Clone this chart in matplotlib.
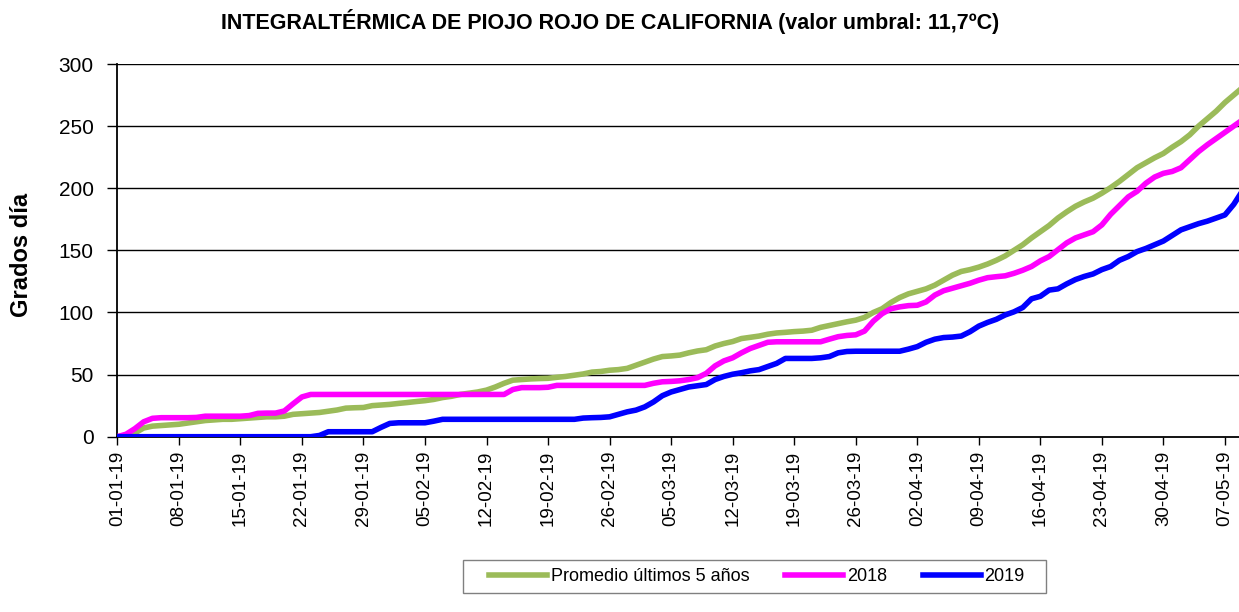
import matplotlib
matplotlib.use("Agg")
import matplotlib.pyplot as plt
from matplotlib.patches import Rectangle
from matplotlib import font_manager

# ---------------- data ----------------
days = list(range(0, 129))  # day index from 01-01-19

promedio = [0, 1, 3, 7, 8.5, 9, 9.5, 10, 11, 12,
            13, 13.5, 14, 14, 14.5, 15, 15.5, 16, 16, 16.5,
            18, 18.5, 19, 19.5, 20.5, 21.5, 23, 23.3, 23.5, 25,
            25.5, 26, 26.8, 27.5, 28.3, 29, 30, 31.5, 32.5, 34,
            35, 36, 37.5, 40, 43, 45.5, 46, 46.5, 46.8, 47,
            47.8, 48.5, 49.5, 50.5, 52, 52.5, 53.5, 54, 55, 57.5,
            60, 62.5, 64.5, 65, 65.7, 67.5, 69, 70, 73, 75,
            76.6, 79, 80, 81, 82.5, 83.5, 84, 84.6, 85, 85.7,
            88, 89.5, 91, 92.5, 93.8, 96, 100, 103, 108, 112,
            115, 117, 119, 122, 126, 130, 133, 134.5, 136.5, 139,
            142, 145.5, 150, 154.5, 160, 165, 170, 176, 181, 185.5,
            189, 192, 196, 200.5, 205.5, 211, 216.5, 220.5, 224.5, 228,
            233, 237.5, 243, 250, 256, 262, 269, 275, 281]

s2018 = [0, 2, 6.5, 12, 14.8, 15.3, 15.3, 15.3, 15.3, 15.5,
         16.5, 16.5, 16.5, 16.5, 16.5, 17, 18.8, 19, 19, 20.7,
         26.5, 32, 34, 34, 34, 34, 34, 34, 34, 34,
         34, 34, 34, 34, 34, 34, 34, 34, 34, 34,
         34, 34, 34, 34, 34, 38, 39.5, 39.5, 39.5, 39.8,
         41.3, 41.3, 41.3, 41.3, 41.3, 41.3, 41.3, 41.3, 41.3, 41.3,
         41.3, 43, 44.2, 44.5, 45, 46, 47.5, 51, 57, 61,
         63.5, 67.5, 71, 73.5, 76, 76.4, 76.4, 76.4, 76.4, 76.4,
         76.4, 78.5, 80.5, 81.5, 82, 85, 93, 99, 103, 104.5,
         105.5, 105.8, 108.5, 114, 117.5, 119.5, 121.5, 123.5, 126, 128,
         128.8, 129.5, 131.5, 134, 137, 141.5, 145, 150.5, 156, 160,
         162.5, 165, 170.5, 179, 186, 193, 197.5, 204, 209, 212,
         213.5, 216.5, 223, 229.5, 235, 240, 245, 250, 255]

s2019 = [0, 0, 0, 0, 0, 0, 0, 0, 0, 0,
         0, 0, 0, 0, 0, 0, 0, 0, 0, 0,
         0, 0, 0, 1, 4, 4, 4, 4, 4, 4,
         7.5, 10.7, 11.2, 11.2, 11.2, 11.2, 12.5, 14, 14, 14,
         14, 14, 14, 14, 14, 14, 14, 14, 14, 14,
         14, 14, 14, 15, 15.3, 15.5, 16, 18, 20, 21.4,
         24, 28, 33, 36, 38, 40, 41, 42, 46, 48.5,
         50.3, 51.5, 53, 54, 56.5, 59, 63, 63, 63, 63,
         63.5, 64.5, 67.5, 68.6, 68.8, 68.8, 68.8, 68.8, 68.8, 68.8,
         70.5, 72.5, 76, 78.5, 79.8, 80.2, 81, 84.5, 89, 92,
         94.5, 98, 100.5, 104, 111, 113, 118, 119, 123, 126.5,
         129, 131, 134.5, 137, 142, 145, 149, 151.5, 154.5, 157.5,
         162, 166.5, 169, 171.5, 173.5, 176, 178.5, 187, 198]

tick_days = [0, 7, 14, 21, 28, 35, 42, 49, 56, 63, 70, 77, 84, 91, 98, 105, 112, 119, 126]
tick_labels = ["01-01-19", "08-01-19", "15-01-19", "22-01-19", "29-01-19",
               "05-02-19", "12-02-19", "19-02-19", "26-02-19", "05-03-19",
               "12-03-19", "19-03-19", "26-03-19", "02-04-19", "09-04-19",
               "16-04-19", "23-04-19", "30-04-19", "07-05-19"]
y_ticks = [0, 50, 100, 150, 200, 250, 300]

series_names = ["Promedio últimos 5 años", "2018", "2019"]
series_colors = ["#9BBB59", "#FF00FF", "#0000FF"]

# ---------------- fonts ----------------
names = {f.name for f in font_manager.fontManager.ttflist}
base = "Liberation Sans" if "Liberation Sans" in names else "DejaVu Sans"
plt.rcParams['font.family'] = [base, 'DejaVu Sans']

W, H = 1239, 612
fig = plt.figure(figsize=(W / 100, H / 100), dpi=100)
ax = fig.add_axes([117.3 / W, 1 - 436.7 / H, (W - 117.3) / W, (436.7 - 64) / H])

for vals, name, col in zip([promedio, s2018, s2019], series_names, series_colors):
    ax.plot(days, vals, color=col, lw=4, label=name, solid_joinstyle='round', zorder=3)

ax.set_xlim(0, 127.6)
ax.set_ylim(0, 300)
ax.set_yticks(y_ticks)
ax.set_yticklabels([str(v) for v in y_ticks], fontsize=15)
ax.set_xticks(tick_days)
ax.set_xticklabels(tick_labels, rotation=90, fontsize=13.5)
ax.tick_params(axis='y', direction='out', length=7, width=1, color='black', pad=10)
ax.tick_params(axis='x', direction='out', length=6, width=1, color='black', pad=4)
for v in y_ticks[1:]:
    ax.axhline(v, color='black', lw=1, zorder=1)
for s in ['top', 'right']:
    ax.spines[s].set_visible(False)
ax.spines['left'].set_color('black')
ax.spines['bottom'].set_color('black')
ax.spines['left'].set_linewidth(1.3)
ax.spines['bottom'].set_linewidth(1.3)

fig.text(610 / W, 1 - 22 / H,
         "INTEGRALTÉRMICA DE PIOJO ROJO DE CALIFORNIA (valor umbral: 11,7ºC)",
         ha='center', va='center', fontsize=15.5, fontweight='bold')
fig.text(22 / W, 1 - 255 / H, "Grados día", rotation=90, ha='center', va='center',
         fontsize=17, fontweight='bold')

# legend
fig.patches.append(Rectangle((463 / W, 1 - 593 / H), 583 / W, 33 / H, transform=fig.transFigure,
                             fill=False, edgecolor='#808080', lw=1))
fig.legend(loc='center', bbox_to_anchor=(757 / W, 1 - 576.5 / H), ncol=3, frameon=False,
           fontsize=13, handlelength=3.2, handletextpad=0.2, columnspacing=2.0)

fig.savefig("out.png", dpi=100)
